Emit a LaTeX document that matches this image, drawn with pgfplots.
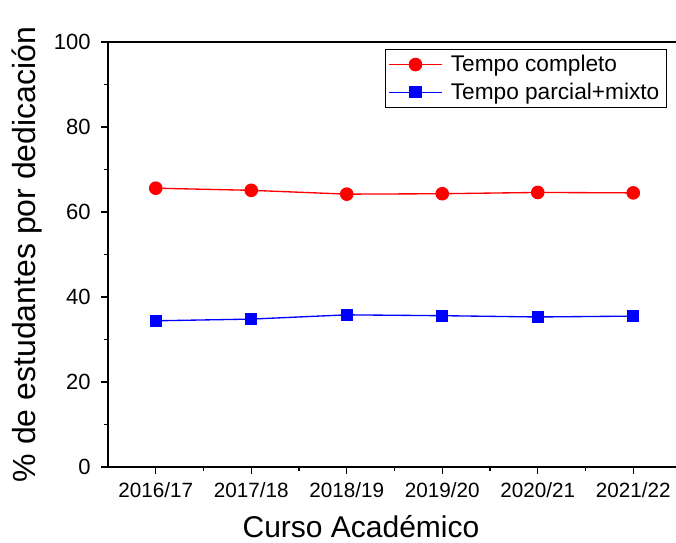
\documentclass[border=0pt]{standalone}
\usepackage{pgfplots}
\pgfplotsset{compat=1.18}
\usepackage{fontspec}
\setmainfont{Liberation Sans}
\begin{document}
\begin{tikzpicture}
\path[use as bounding box, clip] (-81pt,-57pt) rectangle (426pt,350.25pt);
\begin{axis}[
  at={(0,0)}, anchor=south west,
  scale only axis, width=429.75pt, height=318.75pt,
  xmin=-0.5, xmax=5.5, ymin=0, ymax=100,
  xtick={0,1,2,3,4,5},
  xticklabels={2016/17,2017/18,2018/19,2019/20,2020/21,2021/22},
  minor xtick={0.5,1.5,2.5,3.5,4.5},
  ytick={0,20,40,60,80,100},
  minor ytick={10,30,50,70,90},
  tick align=outside,
  xtick pos=bottom, ytick pos=left,
  major tick length=5pt, minor tick length=3pt,
  every tick/.style={black, line width=0.9pt},
  axis line style={line width=1.1pt},
  /pgf/number format/assume math mode=true,
  yticklabel style={font=\fontsize{16.5}{18}\selectfont, xshift=-4.5pt},
  xticklabel style={font=\fontsize{15.5}{17}\selectfont, anchor=base, yshift=-18pt},
  xlabel={Curso Académico},
  ylabel={\% de estudantes por dedicación},
  xlabel style={font=\fontsize{22.5}{25}\selectfont, at={(axis description cs:0.4415,0)}, anchor=base, yshift=-53pt},
  ylabel style={font=\fontsize{24}{26}\selectfont, at={(axis description cs:-0.1414,0.5)}, anchor=center},
  legend style={at={(rel axis cs:1,1)}, xshift=-10.5pt, yshift=-5.25pt, anchor=north east,
    font=\fontsize{17}{19}\selectfont, draw=black, line width=0.5pt, inner sep=2.5pt, row sep=3pt, column sep=3pt,
    nodes={inner xsep=3pt, inner ysep=2pt}},
  legend cell align=left,
  legend image code/.code={\draw[#1] (0pt,0pt) -- (40pt,0pt); \draw[#1, mark repeat=2, mark phase=2] plot coordinates {(0pt,0pt) (20pt,0pt) (40pt,0pt)};},
]
\addplot[red, line width=1pt, mark=*, mark size=4.6pt, mark options={solid, fill=red}] coordinates {
(0,65.6) (1,65.1) (2,64.2) (3,64.3) (4,64.6) (5,64.5)};
\addlegendentry{Tempo completo}
\addplot[blue, line width=1pt, mark=square*, mark size=4.1pt, mark options={solid, fill=blue}] coordinates {
(0,34.4) (1,34.8) (2,35.8) (3,35.6) (4,35.3) (5,35.5)};
\addlegendentry{Tempo parcial+mixto}
\end{axis}
\end{tikzpicture}
\end{document}
